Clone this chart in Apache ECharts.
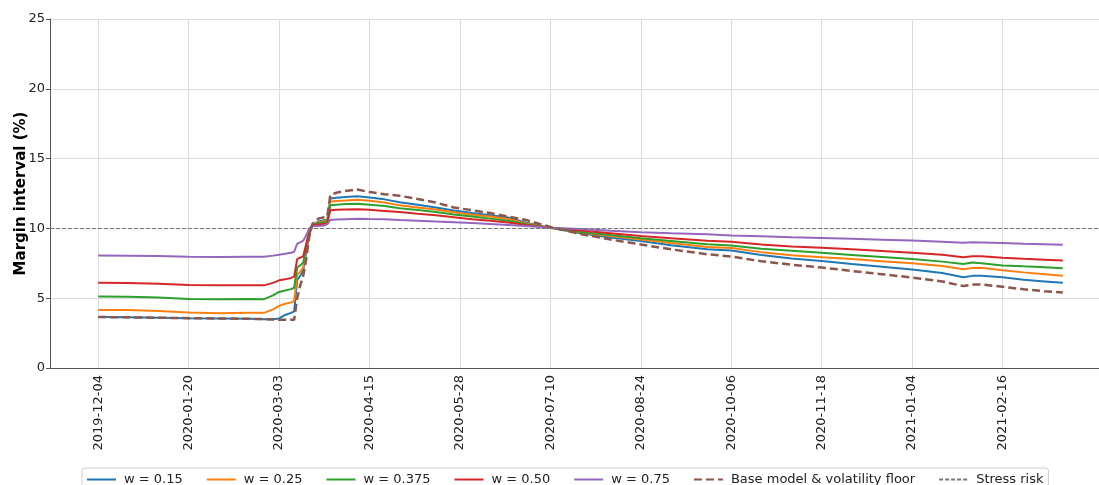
<!DOCTYPE html>
<html>
<head>
<meta charset="utf-8">
<script src="https://cdn.jsdelivr.net/npm/echarts@6/dist/echarts.min.js"></script>
<style>html,body{margin:0;padding:0;background:#fff;}#c{width:1099px;height:485px;}</style>
</head>
<body>
<div id="c"></div>
<script>
// trading-day index of each sample point (0 = 2019-12-04)
const dayIdx = [0,10,20,30,40,50,55,58,60,62,64,65,66,67,68,69,70,71,73,75,76,77,79,82,86,90,95,100,106,112,118,124,130,136,142,150,160,170,180,190,202,210,220,230,240,250,260,270,280,287,290,293,300,307,314,320];
const tickLabels = ['2019-12-04','2020-01-20','2020-03-03','2020-04-15','2020-05-28','2020-07-10','2020-08-24','2020-10-06','2020-11-18','2021-01-04','2021-02-16'];
const tickDays = [0,30,60,90,120,150,180,210,240,270,300];
const totalDays = 321;

const w015 = [3.65,3.63,3.60,3.57,3.55,3.52,3.50,3.50,3.55,3.80,3.95,4.05,6.30,6.60,7.00,8.30,9.50,10.20,10.50,10.58,10.62,12.15,12.20,12.25,12.30,12.22,12.08,11.88,11.70,11.50,11.28,11.10,10.95,10.78,10.40,10.05,9.65,9.35,9.10,8.80,8.50,8.42,8.10,7.85,7.66,7.45,7.25,7.05,6.80,6.50,6.60,6.60,6.50,6.32,6.20,6.10];
const w025 = [4.15,4.15,4.08,3.98,3.92,3.95,3.95,4.20,4.45,4.60,4.70,4.80,6.70,6.90,7.20,8.50,9.60,10.20,10.45,10.52,10.56,11.92,11.97,12.00,12.05,11.98,11.85,11.65,11.50,11.35,11.15,10.98,10.85,10.68,10.35,10.05,9.70,9.45,9.20,8.95,8.67,8.60,8.30,8.08,7.93,7.80,7.65,7.50,7.30,7.07,7.17,7.18,7.00,6.85,6.72,6.60];
const w0375 = [5.12,5.10,5.05,4.95,4.92,4.95,4.93,5.20,5.45,5.55,5.65,5.75,7.20,7.35,7.55,8.70,9.70,10.20,10.38,10.45,10.50,11.65,11.70,11.74,11.77,11.70,11.60,11.45,11.32,11.18,11.00,10.85,10.70,10.55,10.30,10.05,9.75,9.52,9.30,9.10,8.86,8.78,8.55,8.40,8.25,8.10,7.95,7.80,7.62,7.45,7.55,7.50,7.35,7.28,7.22,7.14];
const w050 = [6.10,6.08,6.03,5.95,5.92,5.93,5.92,6.10,6.28,6.35,6.45,6.55,7.80,7.90,8.00,8.90,9.80,10.20,10.28,10.33,10.36,11.30,11.33,11.36,11.38,11.33,11.25,11.17,11.05,10.95,10.80,10.65,10.55,10.42,10.25,10.05,9.85,9.65,9.45,9.30,9.12,9.05,8.85,8.70,8.62,8.50,8.38,8.25,8.12,7.93,8.00,8.00,7.90,7.82,7.76,7.70];
const w075 = [8.05,8.04,8.02,7.97,7.96,7.97,7.97,8.05,8.12,8.18,8.25,8.33,8.90,9.00,9.12,9.50,10.00,10.15,10.18,10.20,10.30,10.60,10.63,10.66,10.70,10.67,10.65,10.60,10.55,10.50,10.44,10.38,10.32,10.25,10.18,10.05,9.95,9.83,9.72,9.65,9.58,9.50,9.43,9.36,9.31,9.25,9.19,9.13,9.05,8.98,9.00,8.99,8.95,8.90,8.87,8.83];
const baseFloor = [3.65,3.63,3.60,3.57,3.55,3.52,3.50,3.48,3.46,3.45,3.45,3.45,5.00,5.90,6.60,7.80,9.40,10.30,10.70,10.80,10.85,12.40,12.55,12.68,12.78,12.60,12.45,12.34,12.10,11.85,11.50,11.30,11.10,10.85,10.60,10.10,9.60,9.20,8.85,8.50,8.15,7.98,7.65,7.40,7.20,6.95,6.72,6.48,6.20,5.87,5.98,5.98,5.82,5.64,5.50,5.40];
const stressRisk = 10;
const yTicks = [0,5,10,15,20,25];

const PAD = 16;
const cats = [];
for (let k = 0; k < totalDays + 2 * PAD - 1; k++) {
  const d = k - PAD;
  const t = tickDays.indexOf(d);
  cats.push(t >= 0 ? tickLabels[t] : 'c' + k);
}
const tickSet = new Set(tickLabels);
const showTick = (i, v) => tickSet.has(v);
const pts = arr => arr.map((v, j) => [dayIdx[j] + PAD, v]);

const mk = (name, data, color, extra) => Object.assign({
  name, type: 'line', data: pts(data), symbol: 'none', showSymbol: false,
  lineStyle: { color, width: 2 }, itemStyle: { color }, animation: false
}, extra || {});

const chart = echarts.init(document.getElementById('c'), null, { renderer: 'canvas' });
chart.setOption({
  animation: false,
  textStyle: { fontFamily: 'DejaVu Sans' },
  grid: { left: 50, right: -9, top: 19, bottom: 117, containLabel: false, outerBoundsMode: 'none' },
  legend: {
    left: 82, top: 468, padding: [5, 5, 5, 4], itemGap: 23, itemWidth: 29, itemHeight: 12,
    borderColor: '#d0d0d0', borderWidth: 1, borderRadius: 3,
    itemStyle: { opacity: 0, borderWidth: 0 },
    textStyle: { fontSize: 13, color: '#222', fontFamily: 'DejaVu Sans', padding: [0, 0, 0, 3] },
    data: ['w = 0.15','w = 0.25','w = 0.375','w = 0.50','w = 0.75','Base model & volatility floor','Stress risk']
  },
  xAxis: {
    type: 'category', data: cats, boundaryGap: false,
    axisLine: { onZero: false, lineStyle: { color: '#555', width: 1 } },
    axisTick: { show: false, interval: showTick },
    axisLabel: { interval: showTick, rotate: 90, margin: 7, fontSize: 13, color: '#222',
      formatter: v => tickSet.has(v) ? v : '' },
    splitLine: { show: true, interval: showTick, lineStyle: { color: '#dcdcdc', width: 1 } }
  },
  yAxis: {
    type: 'value', min: 0, max: 25, interval: 5,
    name: 'Margin interval (%)', nameLocation: 'middle', nameGap: 21, nameMoveOverlap: false,
    nameTextStyle: { fontSize: 15, fontWeight: 'bold', color: '#000', fontFamily: 'DejaVu Sans' },
    axisLine: { show: true, lineStyle: { color: '#555' } },
    axisTick: { show: true, length: 4, lineStyle: { color: '#555' } },
    axisLabel: { fontSize: 13, color: '#222', margin: 5,
      formatter: v => yTicks.indexOf(v) >= 0 ? String(v) : '' },
    splitLine: { show: true, lineStyle: { color: '#dcdcdc', width: 1 } }
  },
  graphic: [{ type: 'line', shape: { x1: 50, y1: 19.5, x2: 1099, y2: 19.5 }, style: { stroke: '#777', lineWidth: 1 }, silent: true }],
  series: [
    mk('w = 0.15', w015, '#1f77b4'),
    mk('w = 0.25', w025, '#ff7f0e'),
    mk('w = 0.375', w0375, '#2ca02c'),
    mk('w = 0.50', w050, '#d62728'),
    mk('w = 0.75', w075, '#9467bd'),
    mk('Base model & volatility floor', baseFloor, '#8c564b', { lineStyle: { color: '#8c564b', width: 2.5, type: [8, 4] } }),
    {
      name: 'Stress risk', type: 'line', data: [], symbol: 'none',
      lineStyle: { color: '#777', width: 1, type: [4, 2] }, itemStyle: { color: '#777' },
      markLine: { silent: true, symbol: ['none', 'none'], label: { show: false },
        lineStyle: { color: '#777', width: 1, type: [4, 2] },
        data: [{ yAxis: stressRisk }] }
    }
  ]
});
</script>
</body>
</html>
